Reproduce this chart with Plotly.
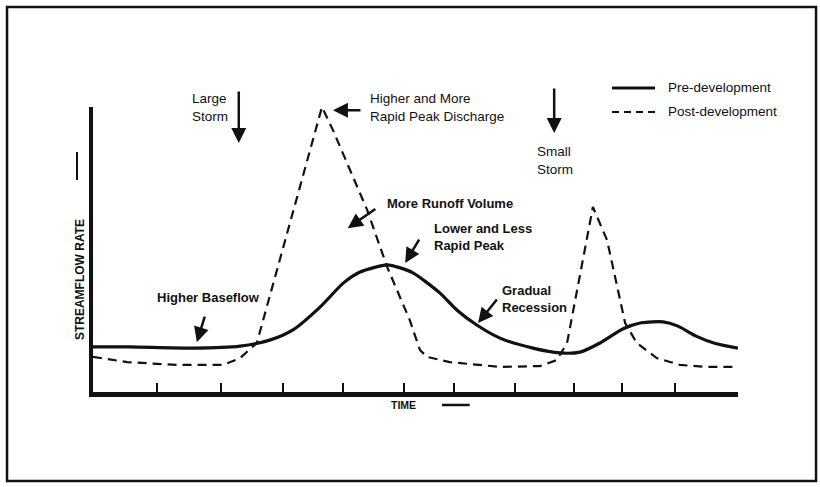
import plotly.graph_objects as go

# ---- data (time: 0-100 arbitrary units, rate: 0-100 arbitrary units) ----
pre_time = [0, 5.7, 15.5, 22.8, 27.4, 31.0, 35.2, 38.8, 41.4, 45.6, 47.1, 49.6, 53.8,
            56.4, 59.5, 63.1, 68.2, 72.4, 75.5, 78.6, 82.2, 85.0, 88.4, 90.6, 93.5, 96.5, 100]
pre_rate = [15.8, 15.8, 15.4, 16.1, 18.2, 21.8, 29.8, 38.2, 42.1, 44.6, 43.9, 41.8, 34.7,
            28.8, 23.5, 18.9, 15.4, 13.7, 14.0, 17.2, 22.2, 24.3, 24.6, 23.2, 19.6, 17.0, 15.4]

post_time = [0, 5.3, 13.0, 20.2, 22.8, 25.4, 35.5, 37.2, 42.5, 45.6, 49.1, 50.7, 51.8,
             55.3, 63.1, 69.3, 71.9, 73.5, 77.5, 79.7, 82.5, 84.3, 87.4, 91.0, 95.2, 100.6]
post_rate = [12.3, 10.5, 9.5, 9.5, 11.9, 17.2, 100.0, 91.9, 63.9, 43.9, 25.3, 14.7, 12.3,
             10.5, 8.8, 9.1, 11.2, 17.2, 64.9, 53.3, 24.2, 17.2, 11.9, 9.5, 8.8, 8.8]

tick_times = [9.9, 19.8, 29.5, 38.8, 48.2, 56.0, 65.4, 74.6, 82.0, 90.2, 100]

series_names = ["Pre-development", "Post-development"]
series_dash = ["solid", "7px,5px"]

FONT = "Liberation Sans"
INK = "#111111"

fig = go.Figure()
fig.add_trace(go.Scatter(x=pre_time, y=pre_rate, mode="lines", name=series_names[0],
                         showlegend=False,
                         line=dict(color=INK, width=3.2, shape="spline", smoothing=0.7)))
fig.add_trace(go.Scatter(x=post_time, y=post_rate, mode="lines", name=series_names[1],
                         showlegend=False,
                         line=dict(color=INK, width=2.2, dash="9px,6px")))

# ---- annotations: text ----
texts = [
    dict(text="Large<br>Storm", x=18.1, y=100.0, xanchor="center", size=13.5, bold=False),
    dict(text="Higher and More<br>Rapid Peak Discharge", x=42.6, y=100.0, xanchor="left", size=13.5, bold=False),
    dict(text="Small<br>Storm", x=71.6, y=81.4, xanchor="center", size=13.5, bold=False),
    dict(text="More Runoff Volume", x=45.3, y=66.3, xanchor="left", size=13, bold=True),
    dict(text="Lower and Less<br>Rapid Peak", x=52.6, y=54.4, xanchor="left", size=13, bold=True),
    dict(text="Gradual<br>Recession", x=63.1, y=32.5, xanchor="left", size=13, bold=True),
    dict(text="Higher Baseflow", x=9.6, y=33.0, xanchor="left", size=13, bold=True),
]
for t in texts:
    txt = t["text"]
    if t["bold"]:
        txt = "<b>" + txt.replace("<br>", "</b><br><b>") + "</b>"
    fig.add_annotation(text=txt, x=t["x"], y=t["y"], xref="x", yref="y",
                       xanchor=t["xanchor"], yanchor="middle", align="left",
                       showarrow=False, font=dict(family=FONT, size=t["size"], color=INK))

# ---- annotations: arrows (tail -> head) ----
arrows = [
    (22.6, 106.0, 22.6, 87.4),   # large storm
    (41.7, 98.9, 37.2, 98.9),    # higher peak
    (71.5, 107.0, 71.5, 90.9),   # small storm
    (44.0, 64.6, 39.5, 57.5),    # more runoff
    (50.7, 54.0, 48.4, 45.3),    # lower and less
    (62.8, 33.0, 59.7, 24.2),    # gradual recession
    (17.4, 27.0, 16.1, 17.5),    # higher baseflow
]
for ax_, ay_, hx, hy in arrows:
    fig.add_annotation(text="", x=hx, y=hy, ax=ax_, ay=ay_, xref="x", yref="y",
                       axref="x", ayref="y", showarrow=True, arrowhead=2,
                       arrowsize=1.2, arrowwidth=2.5, arrowcolor=INK)

# axis titles
fig.add_annotation(text="<b>STREAMFLOW RATE</b>", x=-0.020, y=0.393, xref="paper", yref="paper",
                   xanchor="center", yanchor="middle",
                   textangle=-90, showarrow=False, font=dict(family=FONT, size=12, color=INK))
fig.add_annotation(text="<b>TIME</b>", x=0.482, y=-0.0456, xref="paper", yref="paper",
                   xanchor="center", yanchor="middle",
                   showarrow=False, font=dict(family=FONT, size=10.5, color=INK))

# legend (drawn manually to match the original sample lengths)
legend_y = [1.0667, 0.9825]
for name, dash, ly, w in zip(series_names, series_dash, legend_y, [3, 2.2]):
    fig.add_shape(type="line", x0=0.8047, x1=0.8713, y0=ly, y1=ly, xref="paper", yref="paper",
                  line=dict(color=INK, width=w, dash=dash))
    fig.add_annotation(text=name, x=0.8884, y=ly, xref="paper", yref="paper",
                       xanchor="left", yanchor="middle", showarrow=False,
                       font=dict(family=FONT, size=13.5, color=INK))

# decorative direction marks and frame
fig.add_shape(type="line", x0=-0.0248, x1=-0.0248, y0=0.744, y1=0.842, xref="paper", yref="paper",
              line=dict(color=INK, width=2))
fig.add_shape(type="line", x0=0.541, x1=0.584, y0=-0.0456, y1=-0.0456, xref="paper", yref="paper",
              line=dict(color=INK, width=2.5))
fig.add_shape(type="rect", x0=-0.1333, x1=1.121, y0=-0.312, y1=1.351, xref="paper", yref="paper",
              line=dict(color=INK, width=2.5))

fig.update_layout(
    width=820, height=487,
    margin=dict(l=93, r=82, t=107, b=95),
    paper_bgcolor="white", plot_bgcolor="white",
    font=dict(family=FONT, color=INK),
    showlegend=False,
    xaxis=dict(range=[0, 100], showgrid=False, zeroline=False, showline=True, linewidth=5,
               linecolor=INK, ticks="inside", ticklen=9, tickwidth=1.5, tickcolor=INK,
               tickvals=tick_times, showticklabels=False, fixedrange=True),
    yaxis=dict(range=[0, 100], showgrid=False, zeroline=False, showline=True, linewidth=4,
               linecolor=INK, ticks="", showticklabels=False, fixedrange=True),
)

fig.write_html("out.html", config={"displayModeBar": False},
               post_script="document.body.style.margin='0';")
